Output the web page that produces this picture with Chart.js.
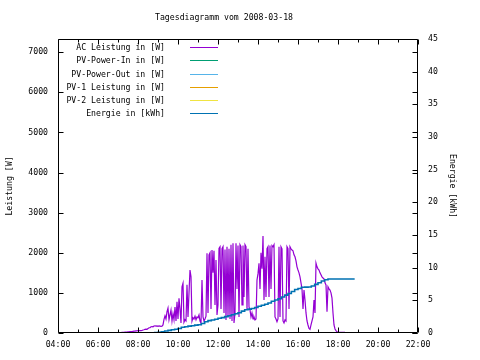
<!DOCTYPE html>
<html><head><meta charset="utf-8">
<script src="https://cdn.jsdelivr.net/npm/chart.js@4.4.1/dist/chart.umd.min.js"></script>
<style>html,body{margin:0;padding:0;background:#fff}canvas{display:block}</style>
</head><body>
<canvas id="c" width="480" height="360"></canvas>
<script>
// ---------- data ----------
const chartTitle = 'Tagesdiagramm vom 2008-03-18';
const leftAxisTitle = 'Leistung [W]';
const rightAxisTitle = 'Energie [kWh]';
const seriesLabels = ['AC Leistung in [W]', 'PV-Power-In in [W]', 'PV-Power-Out in [W]', 'PV-1 Leistung in [W]', 'PV-2 Leistung in [W]', 'Energie in [kWh]'];
const seriesColors = ['#9400d3', '#009e73', '#56b4e9', '#e69f00', '#f0e442', '#0072b2'];
const xTickLabels = ['04:00', '06:00', '08:00', '10:00', '12:00', '14:00', '16:00', '18:00', '20:00', '22:00'];
const leftTickLabels = [0, 1000, 2000, 3000, 4000, 5000, 6000, 7000];
const rightTickLabels = [0, 5, 10, 15, 20, 25, 30, 35, 40, 45];

// AC Leistung [W], one sample every 3 minutes starting 07:06
const acStart = '07:06';
const acStepMinutes = 3;
const acValues = [
  10, 12, 14, 16, 18, 20, 22, 25, 28, 30, 32, 32, 35, 40, 45, 48, 52, 55,
  57, 57, 60, 60, 62, 75, 80, 92, 95, 92, 110, 132, 135, 157, 160, 155, 175, 180, 170, 175,
  165, 175, 170, 165, 170, 200, 340, 430, 350, 530, 620, 330, 450, 570, 300, 480, 330, 650, 300, 780,
  350, 865, 600, 250, 1150, 1240, 270, 330, 300, 1200, 400, 1000, 1570, 1400, 300, 380, 350, 420, 330, 400,
  380, 450, 300, 250, 1320, 400, 300, 350, 420, 1990, 500, 1950, 2000, 600, 2070, 1500, 2050, 700, 1820, 450,
  700, 2110, 2150, 600, 2100, 2150, 500, 2080, 325, 2150, 400, 2100, 350, 2200, 300, 2240, 250, 500, 2240, 1100,
  2180, 400, 2200, 2150, 700, 2180, 900, 2200, 2150, 600, 2100, 650, 575, 400, 500, 350, 400, 325, 350, 1320,
  1480, 1740, 1100, 2000, 1600, 2420, 820, 1900, 900, 2100, 2150, 900, 2180, 1100, 2180, 2150, 2200, 400, 350, 280,
  350, 2150, 400, 2150, 2100, 300, 250, 325, 300, 2150, 2100, 600, 2150, 2100, 2070, 2050, 1950, 1900, 1800, 1650,
  1570, 1500, 1400, 1250, 1100, 600, 1070, 820, 500, 300, 200, 115, 90, 200, 300, 400, 820, 500, 1740, 1650,
  1600, 1570, 1500, 1450, 1400, 1370, 1350, 1250, 1200, 530, 1150, 1100, 1070, 1000, 870, 500, 200, 100, 60, 30,
  20, 15, 15, 15, 15, 15, 15, 15
];

// Energie [kWh]
const energyTimes = ['08:40','08:50','09:00','09:10','09:20','09:30','09:40','09:50','10:00','10:10','10:20','10:30','10:40','10:50',
  '11:00','11:10','11:20','11:30','11:40','11:50','12:00','12:10','12:20','12:30','12:40','12:50','13:00','13:10','13:20','13:30',
  '13:40','13:50','14:00','14:10','14:20','14:30','14:40','14:50','15:00','15:10','15:20','15:30','15:40','15:50','16:00','16:10',
  '16:20','16:30','16:40','16:50','17:00','17:10','17:20','17:30','17:40','18:50'];
const energyValues = [0, 0.02, 0.05, 0.1, 0.2, 0.3, 0.4, 0.5, 0.57, 0.7, 0.87, 0.95, 1.05, 1.1,
  1.2, 1.27, 1.45, 1.73, 1.9, 2.0, 2.1, 2.25, 2.35, 2.5, 2.65, 2.8, 2.95, 3.1, 3.35, 3.55,
  3.65, 3.75, 3.9, 4.1, 4.25, 4.4, 4.6, 4.85, 5.05, 5.25, 5.5, 5.8, 6.05, 6.35, 6.65, 6.8,
  7.0, 7.02, 7.05, 7.2, 7.45, 7.7, 7.95, 8.15, 8.26, 8.26];

const emptySeries = [];

// ---------- helpers ----------
const toMin = s => { const [h, m] = s.split(':').map(Number); return h * 60 + m; };
const acStartMin = toMin(acStart);
const acPoints = acValues.map((v, i) => ({ x: acStartMin + i * acStepMinutes, y: v }));
const energyPoints = energyTimes.map((t, i) => ({ x: toMin(t), y: energyValues[i] }));
const xTickValues = xTickLabels.map(toMin);

const FONT = 'DejaVu Sans Mono';
const fontSpec = { family: FONT, size: 8.2 };

const framePlugin = {
  id: 'frame',
  afterDraw(chart) {
    const { ctx, chartArea: a, scales: { x, y, y2 } } = chart;
    const L = Math.round(a.left) + 0.5, R = Math.round(a.right) - 0.5;
    const T = Math.round(a.top) + 0.5, B = Math.round(a.bottom) - 0.5;
    ctx.save();
    ctx.strokeStyle = '#000';
    ctx.lineWidth = 1;
    ctx.beginPath();
    ctx.rect(L, T, R - L, B - T);
    const xt = x.ticks.map(t => t.value);
    for (let i = 0; i < xt.length; i++) {
      const px = Math.round(x.getPixelForValue(xt[i])) + 0.5;
      ctx.moveTo(px, B); ctx.lineTo(px, B - 5);
      ctx.moveTo(px, T); ctx.lineTo(px, T + 5);
      if (i < xt.length - 1) {
        const pm = Math.round(x.getPixelForValue((xt[i] + xt[i + 1]) / 2)) + 0.5;
        ctx.moveTo(pm, B); ctx.lineTo(pm, B - 3);
        ctx.moveTo(pm, T); ctx.lineTo(pm, T + 3);
      }
    }
    y.ticks.forEach(t => {
      const py = Math.round(y.getPixelForValue(t.value)) + 0.5;
      ctx.moveTo(L, py); ctx.lineTo(L + 5, py);
      ctx.moveTo(R, py); ctx.lineTo(R - 5, py);
    });
    y2.ticks.forEach(t => {
      const py = Math.round(y2.getPixelForValue(t.value)) + 0.5;
      ctx.moveTo(R, py); ctx.lineTo(R - 5, py);
    });
    ctx.stroke();

    ctx.font = fontSpec.size + 'px "' + FONT + '"';
    ctx.textBaseline = 'middle';
    // title
    ctx.fillStyle = '#000';
    ctx.textAlign = 'center';
    ctx.fillText(chartTitle, 224, 18);
    // legend (gnuplot style: text right aligned, sample on right)
    ctx.textAlign = 'right';
    chart.data.datasets.forEach((ds, i) => {
      const ly = Math.round(a.top + 8.3 + i * 13.1) + 0.5;
      ctx.fillStyle = '#000';
      ctx.fillText(ds.label, a.left + 107, ly);
      ctx.beginPath();
      ctx.strokeStyle = ds.borderColor;
      ctx.lineWidth = 1;
      ctx.moveTo(a.left + 132, ly);
      ctx.lineTo(a.left + 160, ly);
      ctx.stroke();
    });
    ctx.restore();
  }
};

const datasets = seriesLabels.map((label, i) => ({
  label,
  data: i === 0 ? acPoints : (i === 5 ? energyPoints : emptySeries),
  borderColor: seriesColors[i],
  backgroundColor: seriesColors[i],
  borderWidth: i === 0 ? 1.2 : 1.6,
  pointRadius: 0,
  tension: 0,
  fill: false,
  stepped: i === 5 ? 'after' : false,
  yAxisID: i === 5 ? 'y2' : 'y'
}));
datasets[5].order = -1;

new Chart(document.getElementById('c'), {
  type: 'line',
  data: { datasets },
  options: {
    responsive: false,
    animation: false,
    devicePixelRatio: 1,
    layout: { padding: { top: 39 } },
    plugins: {
      legend: { display: false },
      tooltip: { enabled: false },
      title: { display: false }
    },
    scales: {
      x: {
        type: 'linear', min: xTickValues[0], max: xTickValues[xTickValues.length - 1],
        grid: { display: false, drawTicks: false },
        border: { display: false },
        afterBuildTicks: s => { s.ticks = xTickValues.map(v => ({ value: v })); },
        ticks: {
          color: '#000', font: fontSpec, padding: 7, maxRotation: 0, autoSkip: false,
          callback: (v, i) => xTickLabels[i]
        },
        afterFit: s => { s.height = 27; }
      },
      y: {
        position: 'left', min: leftTickLabels[0], max: 7330,
        grid: { display: false, drawTicks: false },
        border: { display: false },
        afterBuildTicks: s => { s.ticks = leftTickLabels.map(v => ({ value: v })); },
        ticks: { color: '#000', font: fontSpec, padding: 10, autoSkip: false, callback: (v, i) => String(leftTickLabels[i]) },
        title: { display: true, text: leftAxisTitle, color: '#000', font: fontSpec, padding: { top: 5, bottom: 0 } },
        afterFit: s => { s.width = 58; }
      },
      y2: {
        position: 'right', min: rightTickLabels[0], max: rightTickLabels[rightTickLabels.length - 1],
        grid: { display: false, drawTicks: false },
        border: { display: false },
        afterBuildTicks: s => { s.ticks = rightTickLabels.map(v => ({ value: v })); },
        ticks: { color: '#000', font: fontSpec, padding: 10, autoSkip: false, callback: (v, i) => String(rightTickLabels[i]) },
        title: { display: true, text: rightAxisTitle, color: '#000', font: fontSpec, padding: { top: 23, bottom: 0 } },
        afterFit: s => { s.width = 62; }
      }
    }
  },
  plugins: [framePlugin]
});
</script>
</body></html>
